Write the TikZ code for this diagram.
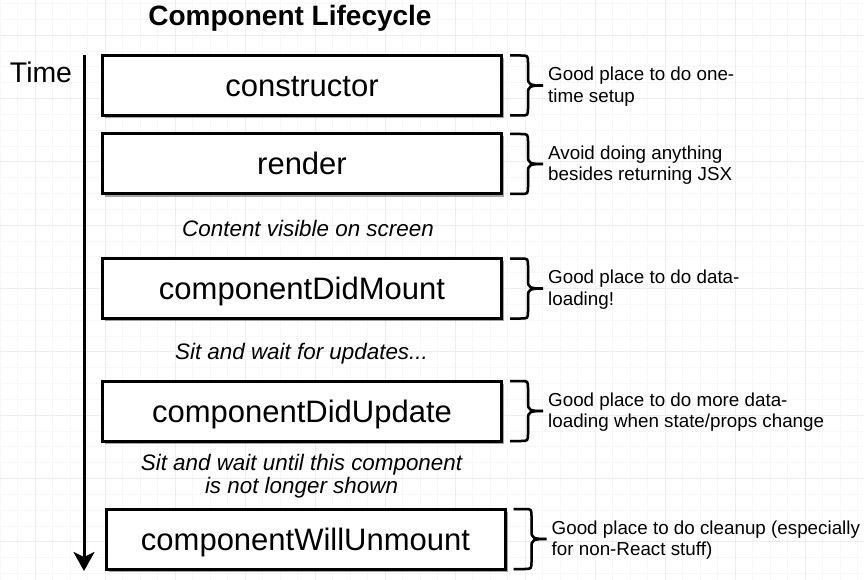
\documentclass[tikz,border=0pt]{standalone}
\usepackage{fontspec}
\setmainfont{Liberation Sans}
\usetikzlibrary{arrows.meta,calc,shadows}
\newcommand{\lcbracepath}[1]{let \p1=(#1.north east),\p2=(#1.south east),\p3=(#1.east) in
  (\x1+8.5pt,\y1) -- (\x1+19pt,\y1) .. controls (\x1+26.5pt,\y1) and (\x1+26.5pt,\y1) .. (\x1+26.5pt,\y1-8pt)
  -- (\x1+26.5pt,\y3+8pt) .. controls (\x1+26.5pt,\y3+1pt) and (\x1+28pt,\y3) .. (\x1+41.5pt,\y3)
  .. controls (\x1+28pt,\y3) and (\x1+26.5pt,\y3-1pt) .. (\x1+26.5pt,\y3-8pt)
  -- (\x1+26.5pt,\y2+8pt) .. controls (\x1+26.5pt,\y2) and (\x1+26.5pt,\y2) .. (\x1+19pt,\y2) -- (\x1+8.5pt,\y2)}
\begin{document}
\begin{tikzpicture}[x=1pt,y=-1pt,
  gridminor/.style={draw=black!3,line width=0.6pt},
  gridmajor/.style={draw=black!7,line width=0.7pt},
  box/.style={draw,line width=3pt,fill=white,minimum width=399pt,minimum height=60pt,
    outer sep=0pt,inner sep=0pt,text height=22pt,text depth=0pt,font=\fontsize{31}{36}\selectfont,
    drop shadow={shadow xshift=2.5pt,shadow yshift=-2.5pt,fill=black,opacity=0.35}},
  bracestyle/.style={draw,line width=2.5pt},
  braceshadow/.style={draw=black!25,line width=2.5pt},
  note/.style={anchor=west,align=left,inner sep=0pt,font=\fontsize{18.8}{21.5}\selectfont},
  remark/.style={align=center,inner sep=0pt,font=\fontsize{22.4}{23}\selectfont\itshape},
  timearrow/.style={line width=3pt,-{Stealth[length=19pt,width=21pt,inset=5pt]}}]
\useasboundingbox[fill=white] (0,0) rectangle (864,580);
% grid
\foreach \j in {0,...,49} \draw[gridminor] (\j*17.5,0) -- (\j*17.5,580);
\foreach \j in {-2,...,34} \draw[gridminor] (0,35+\j*15.833) -- (864,35+\j*15.833);
\foreach \j in {0,...,11} \draw[gridmajor] (35+\j*70,0) -- (35+\j*70,580);
\foreach \j in {0,...,8} \draw[gridmajor] (0,35+\j*63.333) -- (864,35+\j*63.333);
% title and time
\node[font=\fontsize{28}{32}\selectfont\bfseries] (title) at (290,18.5) {Component Lifecycle};
\node[font=\fontsize{28.4}{32}\selectfont] (time) at (41,72) {Time};
\coordinate (ts) at (84,55);
\coordinate (te) at (84,571);
\draw[timearrow] (ts) -- (te);
% boxes
\node[box] (b1) at (302,85.5) {constructor};
\node[box] (b2) at (302,164) {render};
\node[box] (b3) at (302,288.5) {componentDidMount};
\node[box] (b4) at (302,411) {componentDidUpdate};
\node[box] (b5) at (305.5,539) {componentWillUnmount};
% remarks
\node[remark] (r1) at (308,228) {Content visible on screen};
\node[remark] (r2) at (301.5,354) {Sit and wait for updates...};
\node[remark] (r3) at (301.5,476.5) {Sit and wait until this component\\is not longer shown};
% braces
\foreach \b in {b1,b2,b3,b4,b5} {
  \draw[braceshadow,shift={(2pt,-2pt)}] \lcbracepath{\b};
  \draw[bracestyle] \lcbracepath{\b};
  \coordinate (\b tip) at ([xshift=41.5pt]\b.east);
}
\node[note] (n1) at ([xshift=5pt,yshift=-1pt]b1tip) {Good place to do one-\\time setup};
\node[note] (n2) at ([xshift=5pt,yshift=-1pt]b2tip) {Avoid doing anything\\besides returning JSX};
\node[note] (n3) at ([xshift=5pt,yshift=-1pt]b3tip) {Good place to do data-\\loading!};
\node[note] (n4) at ([xshift=5pt,yshift=-1pt]b4tip) {Good place to do more data-\\loading when state/props change};
\node[note] (n5) at ([xshift=5pt,yshift=-1pt]b5tip) {Good place to do cleanup (especially\\for non-React stuff)};
\end{tikzpicture}
\end{document}
